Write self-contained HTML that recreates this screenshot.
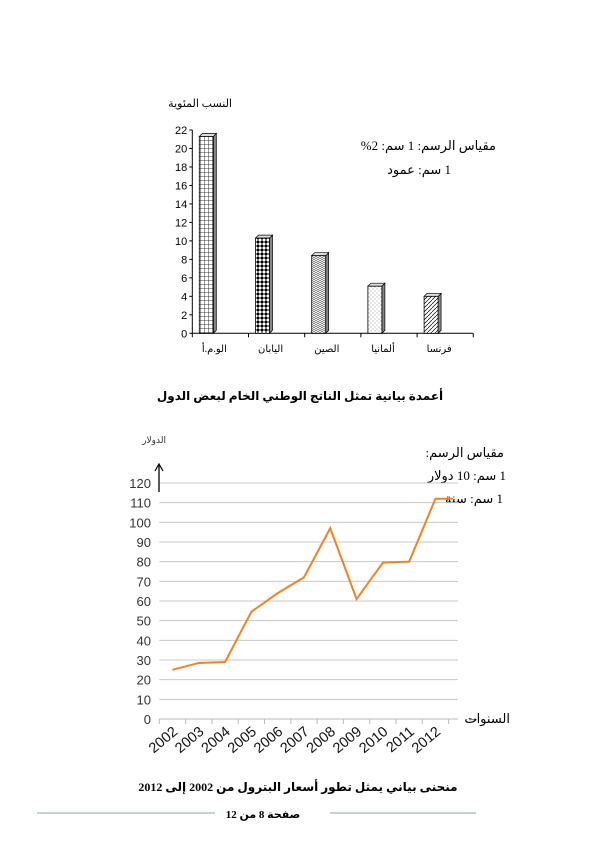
<!DOCTYPE html>
<html><head><meta charset="utf-8"><style>
body{margin:0;background:#fff;width:600px;height:849px;overflow:hidden}
svg{display:block}
text{font-family:"Liberation Sans","Noto Sans CJK SC",sans-serif}
.ar{font-family:"Liberation Serif","DejaVu Sans",serif}
</style></head><body>
<svg id="s" width="600" height="849" viewBox="0 0 600 849" xmlns="http://www.w3.org/2000/svg">
<defs>
<pattern id="p0" width="4" height="4" patternUnits="userSpaceOnUse"><rect width="4" height="4" fill="#fff"/><path d="M0 0H4M0 0V4" stroke="#000" stroke-width="0.8"/></pattern>
<pattern id="p1" width="4" height="4" patternUnits="userSpaceOnUse"><rect width="4" height="4" fill="#fff"/><path d="M2 0L4 2L2 4L0 2Z" fill="#000"/></pattern>
<pattern id="p2" width="4" height="4" patternUnits="userSpaceOnUse"><rect width="4" height="4" fill="#fff"/><path d="M0 0L2 2L4 0M0 2L2 4L4 2" stroke="#555" stroke-width="0.6" fill="none"/></pattern>
<pattern id="p3" width="4" height="4" patternUnits="userSpaceOnUse"><rect width="4" height="4" fill="#fff"/><circle cx="1" cy="1" r="0.5" fill="#777"/><circle cx="3" cy="3" r="0.5" fill="#777"/></pattern>
<pattern id="p4" width="4" height="4" patternUnits="userSpaceOnUse"><rect width="4" height="4" fill="#fff"/><path d="M0 4L4 0" stroke="#000" stroke-width="0.7"/></pattern>
</defs>
<text class="ar" direction="rtl" x="232" y="107" font-size="11" text-anchor="start">النسب المئوية</text>
<text class="ar" direction="rtl" x="496" y="150" font-size="13" text-anchor="start">مقياس الرسم: 1 سم: 2%</text>
<text class="ar" direction="rtl" x="451" y="174" font-size="13" text-anchor="start">1 سم: عمود</text>
<g id="bar"></g>
<text class="ar" direction="rtl" x="300" y="400" font-size="12" font-weight="bold" text-anchor="middle">أعمدة بيانية تمثل الناتج الوطني الخام لبعض الدول</text>
<text class="ar" direction="rtl" x="166" y="443" font-size="9" fill="#333" text-anchor="start">الدولار</text>
<text class="ar" direction="rtl" x="504" y="457" font-size="13" text-anchor="start">مقياس الرسم:</text>
<text class="ar" direction="rtl" x="506" y="480" font-size="13" text-anchor="start">1 سم: 10 دولار</text>
<text class="ar" direction="rtl" x="503" y="503" font-size="13" text-anchor="start">1 سم: سنة</text>
<g id="line"></g>
<text class="ar" direction="rtl" x="510" y="723" font-size="13" text-anchor="start">السنوات</text>
<text x="473" y="722" font-size="13" text-anchor="middle">→</text>
<text class="ar" direction="rtl" x="298" y="791" font-size="12" font-weight="bold" text-anchor="middle">منحنى بياني يمثل تطور أسعار البترول من 2002 إلى 2012</text>
<line x1="37" y1="813" x2="215" y2="813" stroke="#9fb3d9" stroke-width="1.2"/>
<line x1="330" y1="813" x2="476" y2="813" stroke="#9fb3d9" stroke-width="1.2"/>
<text class="ar" direction="rtl" x="263" y="818" font-size="11" font-weight="bold" text-anchor="middle">صفحة 8 من 12</text>
</svg>
<script>
const barCats=["الو.م.أ","اليابان","الصين","ألمانيا","فرنسا"];
const barVals=[21.3,10.3,8.4,5.1,4.0];
const barTicks=[0,2,4,6,8,10,12,14,16,18,20,22];
const years=["2002","2003","2004","2005","2006","2007","2008","2009","2010","2011","2012",""];
const prices=[25,28.5,29,54.5,64,72,97,61,79.5,80,112,112];
const lineTicks=[0,10,20,30,40,50,60,70,80,90,100,110,120];
const NS="http://www.w3.org/2000/svg";
function mk(p,t,a,txt){const e=document.createElementNS(NS,t);for(const k in a)e.setAttribute(k,a[k]);if(txt!==undefined)e.textContent=txt;p.appendChild(e);return e;}
const bg=document.getElementById('bar');
const by=v=>333.3-v*(203.3/22);
const bx0=192.3,bw=56.2;
const bx=i=>bx0+i*bw;
mk(bg,'line',{x1:bx0,y1:by(0),x2:bx0,y2:by(22),stroke:'#000'});
mk(bg,'line',{x1:bx0,y1:by(0),x2:473,y2:by(0),stroke:'#000'});
barTicks.forEach(t=>{mk(bg,'line',{x1:bx0-3,y1:by(t),x2:bx0,y2:by(t),stroke:'#000'});
 const tx=mk(bg,'text',{x:bx0-5,y:by(t)+4,'font-size':11,'text-anchor':'end'},t);
 
 });
for(let i=0;i<=5;i++){mk(bg,'line',{x1:bx(i),y1:by(0),x2:bx(i),y2:by(0)+4,stroke:'#000'});}
barVals.forEach((v,i)=>{
 const x=bx(i)+7,w=14,d=3,y=by(v),y0=by(0);
 const g=mk(bg,'g',{});
 
 
 mk(g,'polygon',{points:`${x+w},${y} ${x+w+d},${y-d} ${x+w+d},${y0-d} ${x+w},${y0}`,fill:'#888',stroke:'#000','stroke-width':0.7});
 mk(g,'polygon',{points:`${x},${y} ${x+d},${y-d} ${x+w+d},${y-d} ${x+w},${y}`,fill:'#ddd',stroke:'#000','stroke-width':0.7});
 mk(g,'rect',{x:x,y:y,width:w,height:y0-y,fill:`url(#p${i})`,stroke:'#000','stroke-width':0.8});
 const t=mk(bg,'text',{x:bx(i)+bw/2-6,y:352,'font-size':10,'text-anchor':'middle',class:'ar',direction:'rtl'},barCats[i]);
 
 
});
const lg=document.getElementById('line');
const ly=v=>719-v*(236/120);
const lx0=159.3,cw=26.3;
const lx=i=>lx0+i*cw+cw/2;
lineTicks.forEach(t=>{if(t>0)mk(lg,'line',{x1:lx0,y1:ly(t),x2:458,y2:ly(t),stroke:'#c8c8c8','stroke-width':1});
 const tx=mk(lg,'text',{x:151,y:ly(t)+5,'font-size':13,'text-anchor':'end',fill:'#333'},t);
 
 });
mk(lg,'line',{x1:lx0,y1:ly(0),x2:458,y2:ly(0),stroke:'#bbb','stroke-width':1});
mk(lg,'line',{x1:159,y1:492,x2:159,y2:465,stroke:'#000','stroke-width':1.3});
mk(lg,'path',{d:'M155 471L159 464L163 471',fill:'none',stroke:'#000','stroke-width':1.2});
for(let i=0;i<=years.length-1;i++){mk(lg,'line',{x1:lx0+i*cw,y1:719,x2:lx0+i*cw,y2:724,stroke:'#bbb'});}
years.forEach((y,i)=>{if(!y)return;const x=lx(i)+6,yy=733;
 const t=mk(lg,'text',{x:x,y:yy,'font-size':14.5,'text-anchor':'end',fill:'#111',transform:`rotate(-40 ${x} ${yy})`},y);
 
 });
let d='';prices.forEach((v,i)=>{const x=i===prices.length-1?453:lx(i);d+=(i?'L':'M')+x+' '+ly(v);});
const p=mk(lg,'path',{d:d,fill:'none',stroke:'#f58220','stroke-width':2});


</script>
</body></html>
